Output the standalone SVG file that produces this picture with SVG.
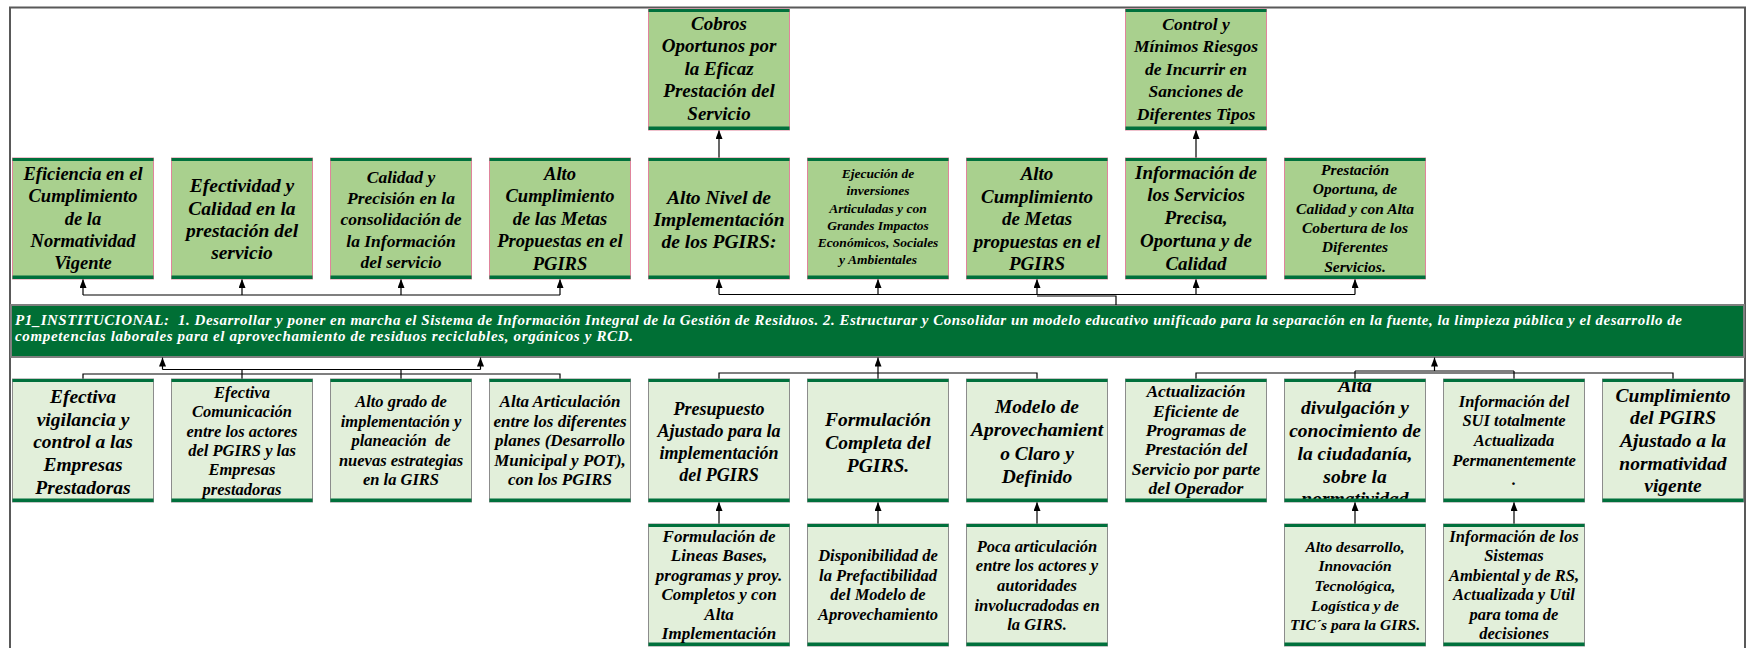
<svg xmlns="http://www.w3.org/2000/svg" width="1752" height="648" viewBox="0 0 1752 648">
<style>
.t{font-family:"Liberation Serif","Times New Roman",serif;font-weight:bold;font-style:italic;fill:#000;text-anchor:middle}
.bt{font-family:"Liberation Serif","Times New Roman",serif;font-weight:bold;font-style:italic;fill:#fff;font-size:15px}
.g1{fill:#a9d08e;stroke:#e0849c;stroke-width:1}
.g2{fill:#e2efda;stroke:#8c8c8c;stroke-width:1}
.bar{fill:#00703c}
.c{fill:none;stroke:#000;stroke-width:1.2}
.a{marker-end:url(#ah)}
</style>
<defs>
<marker id="ah" markerUnits="userSpaceOnUse" markerWidth="9" markerHeight="7" refX="9" refY="3.5" orient="auto"><path d="M0,0 L9,3.5 L0,7 z" fill="#000"/></marker>
<clipPath id="clipDiv"><rect x="1284.5" y="379" width="141" height="123"/></clipPath>
</defs>
<rect id="frame" x="10" y="7.5" width="1735" height="700" fill="#fff" stroke="#595959" stroke-width="2"/>

<g id="band">
<rect x="11" y="305" width="1733" height="52" fill="#006f35" stroke="#7f7f7f" stroke-width="2"/>
<text class="bt" x="15" y="325" textLength="1667" lengthAdjust="spacing">P1_INSTITUCIONAL: &#160;1. Desarrollar y poner en marcha el Sistema de Información Integral de la Gestión de Residuos. 2. Estructurar y Consolidar un modelo educativo unificado para la separación en la fuente, la limpieza pública y el desarrollo de</text>
<text class="bt" x="15" y="341" textLength="618" lengthAdjust="spacing">competencias laborales para el aprovechamiento de residuos reciclables, orgánicos y RCD.</text>
</g>

<g id="connectors">
<path class="c a" d="M719,158 V130"/>
<path class="c a" d="M1196,158 V130"/>
<path class="c" d="M83,295 H560"/>
<path class="c a" d="M83,295 V279"/>
<path class="c a" d="M242,295 V279"/>
<path class="c a" d="M401,295 V279"/>
<path class="c a" d="M560,295 V279"/>
<path class="c" d="M719,294.5 H1355"/>
<path class="c" d="M1037,296 H1116 V305"/>
<path class="c a" d="M719,294.5 V279"/>
<path class="c a" d="M878,294.5 V279"/>
<path class="c a" d="M1037,294.5 V279"/>
<path class="c a" d="M1196,294.5 V279"/>
<path class="c a" d="M1355,294.5 V279"/>
<path class="c" d="M162.5,369.5 H480.5"/>
<path class="c a" d="M162.5,369.5 V357.5"/>
<path class="c a" d="M480.5,369.5 V357.5"/>
<path class="c" d="M83,379 V374 H560 V379"/>
<path class="c" d="M242,369.5 V379"/>
<path class="c" d="M401,369.5 V379"/>
<path class="c" d="M719,379 V373 H1037 V379"/>
<path class="c" d="M878,373 V379"/>
<path class="c a" d="M878,373 V357.5"/>
<path class="c" d="M1355,371 H1514"/>
<path class="c a" d="M1434.5,371 V357.5"/>
<path class="c" d="M1196,379 V373 H1673 V379"/>
<path class="c" d="M1355,371 V379"/>
<path class="c" d="M1514,371 V379"/>
<path class="c a" d="M719,524 V502"/>
<path class="c a" d="M878,524 V502"/>
<path class="c a" d="M1037,524 V502"/>
<path class="c a" d="M1355,524 V502"/>
<path class="c a" d="M1514,524 V502"/>
</g>

<g id="n-cobros">
<rect class="g1" x="648.5" y="9" width="141" height="121"/><rect class="bar" x="648.5" y="9" width="141" height="3"/><rect class="bar" x="648.5" y="126.5" width="141" height="3.5"/>
<text class="t" font-size="19"><tspan x="719" y="29.5">Cobros</tspan><tspan x="719" y="52">Oportunos por</tspan><tspan x="719" y="74.5">la Eficaz</tspan><tspan x="719" y="97">Prestación del</tspan><tspan x="719" y="119.5">Servicio</tspan></text>
</g>
<g id="n-control">
<rect class="g1" x="1125.5" y="9" width="141" height="121"/><rect class="bar" x="1125.5" y="9" width="141" height="3"/><rect class="bar" x="1125.5" y="126.5" width="141" height="3.5"/>
<text class="t" font-size="17.5"><tspan x="1196" y="29.5">Control y</tspan><tspan x="1196" y="52">Mínimos Riesgos</tspan><tspan x="1196" y="74.5">de Incurrir en</tspan><tspan x="1196" y="97">Sanciones de</tspan><tspan x="1196" y="119.5">Diferentes Tipos</tspan></text>
</g>

<g id="n-eficiencia">
<rect class="g1" x="12.5" y="158" width="141" height="121"/><rect class="bar" x="12.5" y="158" width="141" height="3"/><rect class="bar" x="12.5" y="275.5" width="141" height="3.5"/>
<text class="t" font-size="18.5"><tspan x="83" y="180">Eficiencia en el</tspan><tspan x="83" y="202.3">Cumplimiento</tspan><tspan x="83" y="224.6">de la</tspan><tspan x="83" y="246.9">Normatividad</tspan><tspan x="83" y="269.2">Vigente</tspan></text>
</g>
<g id="n-efectividad">
<rect class="g1" x="171.5" y="158" width="141" height="121"/><rect class="bar" x="171.5" y="158" width="141" height="3"/><rect class="bar" x="171.5" y="275.5" width="141" height="3.5"/>
<text class="t" font-size="19.5"><tspan x="242" y="192.3">Efectividad y</tspan><tspan x="242" y="214.6">Calidad en la</tspan><tspan x="242" y="236.9">prestación del</tspan><tspan x="242" y="259.2">servicio</tspan></text>
</g>
<g id="n-calidad">
<rect class="g1" x="330.5" y="158" width="141" height="121"/><rect class="bar" x="330.5" y="158" width="141" height="3"/><rect class="bar" x="330.5" y="275.5" width="141" height="3.5"/>
<text class="t" font-size="17.5"><tspan x="401" y="182.5">Calidad y</tspan><tspan x="401" y="203.9">Precisión en la</tspan><tspan x="401" y="225.3">consolidación de</tspan><tspan x="401" y="246.7">la Información</tspan><tspan x="401" y="268.1">del servicio</tspan></text>
</g>
<g id="n-altocump1">
<rect class="g1" x="489.5" y="158" width="141" height="121"/><rect class="bar" x="489.5" y="158" width="141" height="3"/><rect class="bar" x="489.5" y="275.5" width="141" height="3.5"/>
<text class="t" font-size="18.5"><tspan x="560" y="179.5">Alto</tspan><tspan x="560" y="202.1">Cumplimiento</tspan><tspan x="560" y="224.7">de las Metas</tspan><tspan x="560" y="247.3">Propuestas en el</tspan><tspan x="560" y="269.9">PGIRS</tspan></text>
</g>
<g id="n-altonivel">
<rect class="g1" x="648.5" y="158" width="141" height="121"/><rect class="bar" x="648.5" y="158" width="141" height="3"/><rect class="bar" x="648.5" y="275.5" width="141" height="3.5"/>
<text class="t" font-size="19.5"><tspan x="719" y="203.5">Alto Nivel de</tspan><tspan x="719" y="225.7">Implementación</tspan><tspan x="719" y="247.9">de los PGIRS:</tspan></text>
</g>
<g id="n-ejecucion">
<rect class="g1" x="807.5" y="158" width="141" height="121"/><rect class="bar" x="807.5" y="158" width="141" height="3"/><rect class="bar" x="807.5" y="275.5" width="141" height="3.5"/>
<text class="t" font-size="13.5"><tspan x="878" y="177.8">Ejecución de</tspan><tspan x="878" y="195.1">inversiones</tspan><tspan x="878" y="212.9">Articuladas y con</tspan><tspan x="878" y="230.4">Grandes Impactos</tspan><tspan x="878" y="247.3">Económicos, Sociales</tspan><tspan x="878" y="264">y Ambientales</tspan></text>
</g>
<g id="n-altocump2">
<rect class="g1" x="966.5" y="158" width="141" height="121"/><rect class="bar" x="966.5" y="158" width="141" height="3"/><rect class="bar" x="966.5" y="275.5" width="141" height="3.5"/>
<text class="t" font-size="19"><tspan x="1037" y="180">Alto</tspan><tspan x="1037" y="202.5">Cumplimiento</tspan><tspan x="1037" y="225">de Metas</tspan><tspan x="1037" y="247.5">propuestas en el</tspan><tspan x="1037" y="270">PGIRS</tspan></text>
</g>
<g id="n-informacion">
<rect class="g1" x="1125.5" y="158" width="141" height="121"/><rect class="bar" x="1125.5" y="158" width="141" height="3"/><rect class="bar" x="1125.5" y="275.5" width="141" height="3.5"/>
<text class="t" font-size="19"><tspan x="1196" y="178.5">Información de</tspan><tspan x="1196" y="201.3">los Servicios</tspan><tspan x="1196" y="224.1">Precisa,</tspan><tspan x="1196" y="246.9">Oportuna y de</tspan><tspan x="1196" y="269.7">Calidad</tspan></text>
</g>
<g id="n-prestacion">
<rect class="g1" x="1284.5" y="158" width="141" height="121"/><rect class="bar" x="1284.5" y="158" width="141" height="3"/><rect class="bar" x="1284.5" y="275.5" width="141" height="3.5"/>
<text class="t" font-size="15.5"><tspan x="1355" y="175">Prestación</tspan><tspan x="1355" y="194.3">Oportuna, de</tspan><tspan x="1355" y="213.6">Calidad y con Alta</tspan><tspan x="1355" y="232.9">Cobertura de los</tspan><tspan x="1355" y="252.2">Diferentes</tspan><tspan x="1355" y="271.5">Servicios.</tspan></text>
</g>

<g id="n-vigilancia">
<rect class="g2" x="12.5" y="379" width="141" height="123"/><rect class="bar" x="12.5" y="379" width="141" height="3"/><rect class="bar" x="12.5" y="498.5" width="141" height="3.5"/>
<text class="t" font-size="19.5"><tspan x="83" y="402.7">Efectiva</tspan><tspan x="83" y="425.5">vigilancia y</tspan><tspan x="83" y="448.3">control a las</tspan><tspan x="83" y="471.1">Empresas</tspan><tspan x="83" y="493.9">Prestadoras</tspan></text>
</g>
<g id="n-comunicacion">
<rect class="g2" x="171.5" y="379" width="141" height="123"/><rect class="bar" x="171.5" y="379" width="141" height="3"/><rect class="bar" x="171.5" y="498.5" width="141" height="3.5"/>
<text class="t" font-size="16.5"><tspan x="242" y="398">Efectiva</tspan><tspan x="242" y="417.3">Comunicación</tspan><tspan x="242" y="436.6">entre los actores</tspan><tspan x="242" y="455.9">del PGIRS y las</tspan><tspan x="242" y="475.2">Empresas</tspan><tspan x="242" y="494.5">prestadoras</tspan></text>
</g>
<g id="n-altogrado">
<rect class="g2" x="330.5" y="379" width="141" height="123"/><rect class="bar" x="330.5" y="379" width="141" height="3"/><rect class="bar" x="330.5" y="498.5" width="141" height="3.5"/>
<text class="t" font-size="16.5"><tspan x="401" y="407.3">Alto grado de</tspan><tspan x="401" y="426.8">implementación y</tspan><tspan x="401" y="446.3">planeación &#160;de</tspan><tspan x="401" y="465.8">nuevas estrategias</tspan><tspan x="401" y="485.3">en la GIRS</tspan></text>
</g>
<g id="n-articulacion">
<rect class="g2" x="489.5" y="379" width="141" height="123"/><rect class="bar" x="489.5" y="379" width="141" height="3"/><rect class="bar" x="489.5" y="498.5" width="141" height="3.5"/>
<text class="t" font-size="17"><tspan x="560" y="407">Alta Articulación</tspan><tspan x="560" y="426.5">entre los diferentes</tspan><tspan x="560" y="446">planes (Desarrollo</tspan><tspan x="560" y="465.5">Municipal y POT),</tspan><tspan x="560" y="485">con los PGIRS</tspan></text>
</g>
<g id="n-presupuesto">
<rect class="g2" x="648.5" y="379" width="141" height="123"/><rect class="bar" x="648.5" y="379" width="141" height="3"/><rect class="bar" x="648.5" y="498.5" width="141" height="3.5"/>
<text class="t" font-size="18"><tspan x="719" y="415">Presupuesto</tspan><tspan x="719" y="436.9">Ajustado para la</tspan><tspan x="719" y="458.8">implementación</tspan><tspan x="719" y="480.7">del PGIRS</tspan></text>
</g>
<g id="n-formulacion">
<rect class="g2" x="807.5" y="379" width="141" height="123"/><rect class="bar" x="807.5" y="379" width="141" height="3"/><rect class="bar" x="807.5" y="498.5" width="141" height="3.5"/>
<text class="t" font-size="19.5"><tspan x="878" y="426">Formulación</tspan><tspan x="878" y="448.8">Completa del</tspan><tspan x="878" y="471.6">PGIRS.</tspan></text>
</g>
<g id="n-modelo">
<rect class="g2" x="966.5" y="379" width="141" height="123"/><rect class="bar" x="966.5" y="379" width="141" height="3"/><rect class="bar" x="966.5" y="498.5" width="141" height="3.5"/>
<text class="t" font-size="19.5"><tspan x="1037" y="413.3">Modelo de</tspan><tspan x="1037" y="436.4">Aprovechamient</tspan><tspan x="1037" y="459.5">o Claro y</tspan><tspan x="1037" y="482.6">Definido</tspan></text>
</g>
<g id="n-actualizacion">
<rect class="g2" x="1125.5" y="379" width="141" height="123"/><rect class="bar" x="1125.5" y="379" width="141" height="3"/><rect class="bar" x="1125.5" y="498.5" width="141" height="3.5"/>
<text class="t" font-size="17.5"><tspan x="1196" y="397.3">Actualización</tspan><tspan x="1196" y="416.6">Eficiente de</tspan><tspan x="1196" y="435.9">Programas de</tspan><tspan x="1196" y="455.2">Prestación del</tspan><tspan x="1196" y="474.5">Servicio por parte</tspan><tspan x="1196" y="493.8">del Operador</tspan></text>
</g>
<g id="n-divulgacion">
<rect class="g2" x="1284.5" y="379" width="141" height="123"/>
<text class="t" font-size="19.5" clip-path="url(#clipDiv)"><tspan x="1355" y="391.7">Alta</tspan><tspan x="1355" y="414.4">divulgación y</tspan><tspan x="1355" y="437.1">conocimiento de</tspan><tspan x="1355" y="459.8">la ciudadanía,</tspan><tspan x="1355" y="482.5">sobre la</tspan><tspan x="1355" y="505.2">normatividad</tspan></text>
<rect class="bar" x="1284.5" y="379" width="141" height="3"/><rect class="bar" x="1284.5" y="498.5" width="141" height="3.5"/>
</g>
<g id="n-sui">
<rect class="g2" x="1443.5" y="379" width="141" height="123"/><rect class="bar" x="1443.5" y="379" width="141" height="3"/><rect class="bar" x="1443.5" y="498.5" width="141" height="3.5"/>
<text class="t" font-size="16.5"><tspan x="1514" y="406.7">Información del</tspan><tspan x="1514" y="426.3">SUI totalmente</tspan><tspan x="1514" y="445.9">Actualizada</tspan><tspan x="1514" y="465.5">Permanentemente</tspan><tspan x="1514" y="485.1">.</tspan></text>
</g>
<g id="n-cumplimiento">
<rect class="g2" x="1602.5" y="379" width="141" height="123"/><rect class="bar" x="1602.5" y="379" width="141" height="3"/><rect class="bar" x="1602.5" y="498.5" width="141" height="3.5"/>
<text class="t" font-size="19.5"><tspan x="1673" y="401.7">Cumplimiento</tspan><tspan x="1673" y="424.3">del PGIRS</tspan><tspan x="1673" y="446.9">Ajustado a la</tspan><tspan x="1673" y="469.5">normatividad</tspan><tspan x="1673" y="492.1">vigente</tspan></text>
</g>

<g id="n-lineas">
<rect class="g2" x="648.5" y="524" width="141" height="122"/><rect class="bar" x="648.5" y="524" width="141" height="3"/><rect class="bar" x="648.5" y="642.5" width="141" height="3.5"/>
<text class="t" font-size="17"><tspan x="719" y="541.7">Formulación de</tspan><tspan x="719" y="561.2">Lineas Bases,</tspan><tspan x="719" y="580.7">programas y proy.</tspan><tspan x="719" y="600.2">Completos y con</tspan><tspan x="719" y="619.7">Alta</tspan><tspan x="719" y="639.2">Implementación</tspan></text>
</g>
<g id="n-disponibilidad">
<rect class="g2" x="807.5" y="524" width="141" height="122"/><rect class="bar" x="807.5" y="524" width="141" height="3"/><rect class="bar" x="807.5" y="642.5" width="141" height="3.5"/>
<text class="t" font-size="16.5"><tspan x="878" y="560.7">Disponibilidad de</tspan><tspan x="878" y="580.5">la Prefactibilidad</tspan><tspan x="878" y="600.3">del Modelo de</tspan><tspan x="878" y="620.1">Aprovechamiento</tspan></text>
</g>
<g id="n-poca">
<rect class="g2" x="966.5" y="524" width="141" height="122"/><rect class="bar" x="966.5" y="524" width="141" height="3"/><rect class="bar" x="966.5" y="642.5" width="141" height="3.5"/>
<text class="t" font-size="16.5"><tspan x="1037" y="551.7">Poca articulación</tspan><tspan x="1037" y="571.3">entre los actores y</tspan><tspan x="1037" y="590.9">autoridades</tspan><tspan x="1037" y="610.5">involucradodas en</tspan><tspan x="1037" y="630.1">la GIRS.</tspan></text>
</g>
<g id="n-desarrollo">
<rect class="g2" x="1284.5" y="524" width="141" height="122"/><rect class="bar" x="1284.5" y="524" width="141" height="3"/><rect class="bar" x="1284.5" y="642.5" width="141" height="3.5"/>
<text class="t" font-size="15.5"><tspan x="1355" y="551.7">Alto desarrollo,</tspan><tspan x="1355" y="571.3">Innovación</tspan><tspan x="1355" y="590.9">Tecnológica,</tspan><tspan x="1355" y="610.5">Logística y de</tspan><tspan x="1355" y="630.1">TIC´s para la GIRS.</tspan></text>
</g>
<g id="n-sistemas">
<rect class="g2" x="1443.5" y="524" width="141" height="122"/><rect class="bar" x="1443.5" y="524" width="141" height="3"/><rect class="bar" x="1443.5" y="642.5" width="141" height="3.5"/>
<text class="t" font-size="16.5"><tspan x="1514" y="541.7">Información de los</tspan><tspan x="1514" y="561.2">Sistemas</tspan><tspan x="1514" y="580.7">Ambiental y de RS,</tspan><tspan x="1514" y="600.2">Actualizada y Util</tspan><tspan x="1514" y="619.7">para toma de</tspan><tspan x="1514" y="639.2">decisiones</tspan></text>
</g>
</svg>
